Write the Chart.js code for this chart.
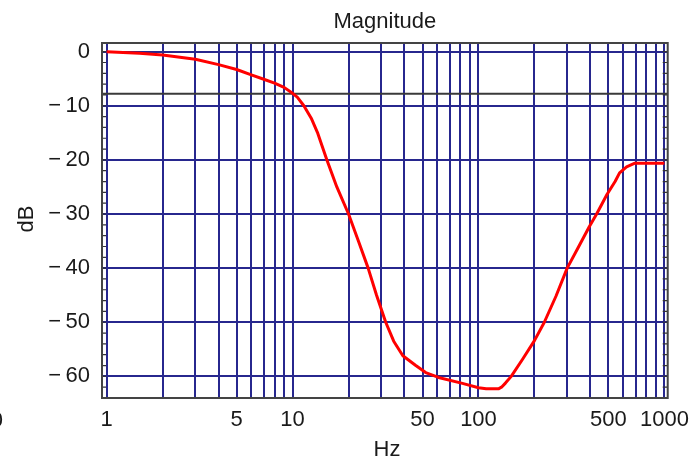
<!DOCTYPE html>
<html>
<head>
<meta charset="utf-8">
<script src="https://cdn.jsdelivr.net/npm/chart.js@4"></script>
<style>
  body { margin: 0; background: #fff; }
  #wrap { width: 698px; height: 460px; }
</style>
</head>
<body>
<div id="wrap"><canvas id="magChart" width="698" height="460"></canvas></div>
<script>
// frequency response
const freqHz = [1, 1.5, 2, 3, 4, 5, 6, 7, 8, 9, 10, 10.6, 11.5, 12.6, 13.6, 14.4, 15.3, 17.3, 20, 22.6, 25.5, 28.3, 31.7, 35, 39.2, 46, 52, 61, 82, 100, 110, 128, 133, 140, 150, 173, 200, 226, 261, 300, 340, 395, 432, 491, 543, 574, 626, 694, 1000];
const magDb = [0, -0.3, -0.6, -1.4, -2.4, -3.3, -4.3, -5.1, -5.8, -6.6, -7.7, -8.4, -10, -12.3, -14.9, -17.4, -20, -25, -30, -35, -40, -45, -50, -53.5, -56.2, -58, -59.3, -60.2, -61.3, -62.1, -62.3, -62.3, -62, -61.2, -60, -56.8, -53.4, -50, -45.2, -40, -36.5, -32.3, -30, -26.4, -24, -22.4, -21.3, -20.6, -20.6];
const refLevelDb = -7.8;

const xGridHz = [1, 2, 3, 4, 5, 6, 7, 8, 9, 10, 20, 30, 40, 50, 60, 70, 80, 90, 100, 200, 300, 400, 500, 600, 700, 800, 900, 1000];
const xTickLabels = [1, 5, 10, 50, 100, 500, 1000];
const yTicks = [-60, -50, -40, -30, -20, -10, 0];

const xMin = 0.944, xMax = 1042;
const yMin = -64, yMax = 1.6;

const FONT = "'Liberation Sans', Arial, sans-serif";
const gridColor = '#27278e';

const decorations = {
  id: 'decorations',
  afterDatasetsDraw(chart) {
    const ctx = chart.ctx;
    const a = chart.chartArea;
    const y = chart.scales.y;
    ctx.save();
    // minor ticks on both sides every 2 dB
    ctx.strokeStyle = '#333';
    ctx.lineWidth = 1.2;
    for (let v = -64; v <= 0; v += 2) {
      const py = y.getPixelForValue(v);
      ctx.beginPath();
      ctx.moveTo(a.left, py); ctx.lineTo(a.left + 4, py);
      ctx.moveTo(a.right, py); ctx.lineTo(a.right - 5, py);
      ctx.stroke();
    }
    // frame
    ctx.strokeStyle = '#444';
    ctx.lineWidth = 2;
    ctx.strokeRect(a.left, a.top, a.right - a.left, a.bottom - a.top);

    // titles
    ctx.fillStyle = '#1a1a1a';
    ctx.font = '22px ' + FONT;
    ctx.textAlign = 'center';
    ctx.textBaseline = 'alphabetic';
    ctx.fillText('Magnitude', (a.left + a.right) / 2, 28);
    ctx.fillText('Hz', 387, 456);
    ctx.save();
    ctx.translate(33, 219);
    ctx.rotate(-Math.PI / 2);
    ctx.fillText('dB', 0, 0);
    ctx.restore();
    // cut-off label at the left edge
    ctx.textAlign = 'right';
    ctx.fillText('0', 3, 427);
    ctx.restore();
  }
};

const ctx = document.getElementById('magChart').getContext('2d');
const myChart = new Chart(ctx, {
  type: 'line',
  data: {
    datasets: [{
      label: 'Magnitude',
      data: freqHz.map((f, i) => ({ x: f, y: magDb[i] })),
      borderColor: '#ff0000',
      borderWidth: 3,
      pointRadius: 0,
      tension: 0,
      borderJoinStyle: 'round',
      fill: false,
      order: 0
    }, {
      label: 'Reference',
      data: [{ x: xMin, y: refLevelDb }, { x: xMax, y: refLevelDb }],
      borderColor: '#3a3a3a',
      borderWidth: 2,
      pointRadius: 0,
      fill: false,
      order: 1
    }]
  },
  options: {
    responsive: false,
    animation: false,
    layout: { padding: { top: 43, right: 23, left: 0, bottom: 0 } },
    plugins: {
      legend: { display: false },
      title: { display: false },
      tooltip: { enabled: false }
    },
    scales: {
      x: {
        type: 'logarithmic',
        min: xMin,
        max: xMax,
        afterBuildTicks: s => { s.ticks = xGridHz.map(v => ({ value: v })); },
        afterFit: s => { s.height = 62; },
        grid: { color: gridColor, lineWidth: 2, drawTicks: false },
        border: { display: false },
        ticks: {
          autoSkip: false,
          maxRotation: 0,
          padding: 9,
          color: '#1a1a1a',
          font: { family: FONT, size: 22 },
          callback: v => xTickLabels.includes(v) ? String(v) : ''
        }
      },
      y: {
        type: 'linear',
        min: yMin,
        max: yMax,
        afterBuildTicks: s => { s.ticks = yTicks.map(v => ({ value: v })); },
        afterFit: s => { s.width = 102; },
        grid: { color: gridColor, lineWidth: 2, drawTicks: false },
        border: { display: false },
        ticks: {
          padding: 12,
          color: '#1a1a1a',
          font: { family: FONT, size: 22 },
          callback: v => v < 0 ? '\u2212\u2009' + Math.abs(v) : String(v)
        }
      }
    }
  },
  plugins: [decorations]
});
</script>
</body>
</html>
